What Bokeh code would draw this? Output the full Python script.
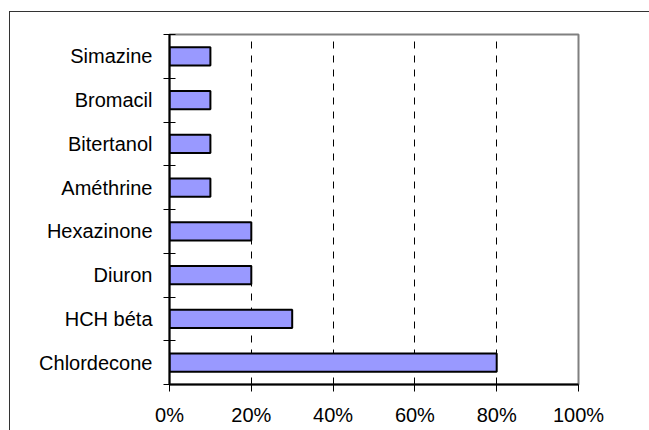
from bokeh.plotting import figure
from bokeh.models import (ColumnDataSource, FixedTicker, PrintfTickFormatter,
                          Range1d, InlineStyleSheet)
from bokeh.embed import file_html
from bokeh.resources import INLINE

# Substances, listed from bottom to top of the chart
substances = ["Chlordecone", "HCH béta", "Diuron", "Hexazinone",
              "Améthrine", "Bitertanol", "Bromacil", "Simazine"]
# Share of samples in which each substance was found (%)
shares = [80, 30, 20, 20, 10, 10, 10, 10]
x_ticks = [0, 20, 40, 60, 80, 100]

FONT = "Liberation Sans"
FONT_SIZE = "20px"

n = len(substances)
centers = [i + 0.5 for i in range(n)]
source = ColumnDataSource(dict(y=centers, share=shares, name=substances))

p = figure(width=649, height=430, output_backend="svg", toolbar_location=None,
           x_range=Range1d(0, 100), y_range=Range1d(0, n),
           min_border_left=169, min_border_right=71,
           min_border_top=34, min_border_bottom=46)
p.background_fill_color = "white"
p.border_fill_color = "white"
p.outline_line_color = "#808080"
p.outline_line_width = 2

p.hbar(y="y", left=0, right="share", height=0.42, source=source,
       fill_color="#9999FF", line_color="black", line_width=2)

# x axis: percentages
xa = p.xaxis[0]
xa.ticker = FixedTicker(ticks=x_ticks)
xa.formatter = PrintfTickFormatter(format="%d%%")
xa.axis_line_color = "black"
xa.axis_line_width = 2
xa.major_tick_in = 0
xa.major_tick_out = 7
xa.minor_tick_line_color = None
xa.major_tick_line_color = "black"
xa.major_label_text_font = FONT
xa.major_label_text_font_size = FONT_SIZE
xa.major_label_text_color = "black"
xa.major_label_standoff = 12

# y axis: labels at category centers, tick marks at category boundaries
ya = p.yaxis[0]
ya.ticker = FixedTicker(ticks=centers, minor_ticks=list(range(n + 1)))
ya.major_label_overrides = {c: s for c, s in zip(centers, substances)}
ya.major_tick_line_color = None
ya.minor_tick_in = 6
ya.minor_tick_out = 6
ya.minor_tick_line_color = "black"
ya.axis_line_color = "black"
ya.axis_line_width = 2
ya.major_label_text_font = FONT
ya.major_label_text_font_size = FONT_SIZE
ya.major_label_text_color = "black"
ya.major_label_standoff = 11

p.xgrid.ticker = FixedTicker(ticks=[20, 40, 60, 80])
p.xgrid.grid_line_color = "black"
p.xgrid.grid_line_dash = "7 7"
p.xgrid.grid_line_width = 1
p.ygrid.grid_line_color = None

# chart area frame (left and top edges; the rest runs off the page)
p.stylesheets = [InlineStyleSheet(css="""
:host::after {
  content: "";
  position: absolute;
  left: 9px; top: 11px;
  width: 640px; height: 419px;
  border-left: 1.5px solid #333333;
  border-top: 1.5px solid #333333;
  box-sizing: border-box;
  pointer-events: none;
  z-index: 10;
}
""")]

open("out.html", "w").write(file_html(p, INLINE))
